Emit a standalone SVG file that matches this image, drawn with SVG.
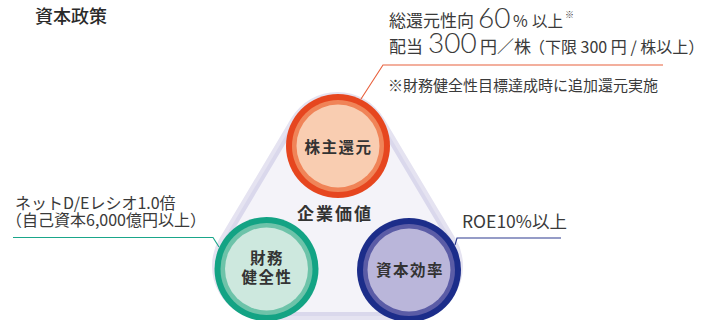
<svg xmlns="http://www.w3.org/2000/svg" width="711" height="320" viewBox="0 0 711 320">
<style>
.t{font-family:"Noto Sans CJK JP","Noto Sans",sans-serif;fill:#3a3a3a}
.n{font-family:"Noto Sans CJK JP","Noto Sans",sans-serif;font-weight:700;fill:#333;font-size:15.5px;text-anchor:middle;letter-spacing:1.5px}
.big{font-family:Lato,"Noto Sans",sans-serif;font-weight:300}
.ln{fill:none;stroke-width:1.1}
</style>
<rect width="711" height="320" fill="#fff"/>
<g id="triangle">
<path d="M291.11,118.36 L219.61,238.36 A54,54 0 0 0 266,320 L409,320 A54,54 0 0 0 455.39,238.36 L383.89,118.36 A54,54 0 0 0 291.11,118.36 Z" fill="#e5e3f1"/>
<path d="M294.54,120.4 L223.04,240.4 A50,50 0 0 0 266,316 L409,316 A50,50 0 0 0 451.96,240.4 L380.46,120.4 A50,50 0 0 0 294.54,120.4 Z" fill="#dad8ec"/>
<path d="M297.98,122.45 L226.48,242.45 A46,46 0 0 0 266,312 L409,312 A46,46 0 0 0 448.52,242.45 L377.02,122.45 A46,46 0 0 0 297.98,122.45 Z" fill="#f4f3f9"/>
<text class="n" x="335" y="220" style="font-size:17px;letter-spacing:2px">企業価値</text>
</g>
<g id="connectors">
<polyline class="ln" points="663,65 383,65 361,99" stroke="#e8603c"/>
<polyline class="ln" points="13,237.5 213,237.5 219,247" stroke="#1aa68a"/>
<polyline class="ln" points="561,238 457,238 455,245" stroke="#2c3a8f"/>
</g>
<g id="node-shareholder-return">
<circle cx="338" cy="146" r="52" fill="#e6461f"/>
<circle cx="338" cy="146" r="46" fill="#f08458"/>
<circle cx="338" cy="146" r="41.5" fill="#f9cdb1"/>
<text class="n" x="338.5" y="153">株主還元</text>
</g>
<g id="node-financial-soundness">
<circle cx="266.5" cy="269" r="52" fill="#13a384"/>
<circle cx="266.5" cy="269" r="46" fill="#6dc3a9"/>
<circle cx="266.5" cy="269" r="41.5" fill="#cde8de"/>
<text class="n" x="267" y="264">財務</text>
<text class="n" x="267" y="283">健全性</text>
</g>
<g id="node-capital-efficiency">
<circle cx="409" cy="270" r="52" fill="#1c2d8a"/>
<circle cx="409" cy="270" r="46" fill="#5b5ca6"/>
<circle cx="409" cy="270" r="41.5" fill="#bab6da"/>
<text class="n" x="410" y="276">資本効率</text>
</g>
<g id="labels">
<text class="t" x="35" y="23" style="font-size:18px;font-weight:500;fill:#2a2a2a">資本政策</text>
<text class="t" y="27" style="font-size:17px"><tspan x="389">総還元性向</tspan><tspan class="big" x="478" y="28" style="font-size:28px">60</tspan><tspan x="513" y="27" style="font-size:16px">%</tspan><tspan x="532" style="font-size:15.5px">以上</tspan><tspan x="565" y="18" style="font-size:9px">※</tspan></text>
<text class="t" y="53" style="font-size:17px"><tspan x="389">配当</tspan><tspan class="big" x="428" style="font-size:28px">300</tspan><tspan x="480">円／株</tspan><tspan x="529" style="font-size:16px">（下限 300 円 / 株以上）</tspan></text>
<text class="t" x="388" y="91" style="font-size:15px">※財務健全性目標達成時に追加還元実施</text>
<text class="t" x="15" y="209" style="font-size:16px">ネットD/Eレシオ1.0倍</text>
<text class="t" x="6" y="226" style="font-size:16px">（自己資本6,000億円以上）</text>
<text class="t" x="462" y="228" style="font-size:17.5px">ROE10%以上</text>
</g>
</svg>
